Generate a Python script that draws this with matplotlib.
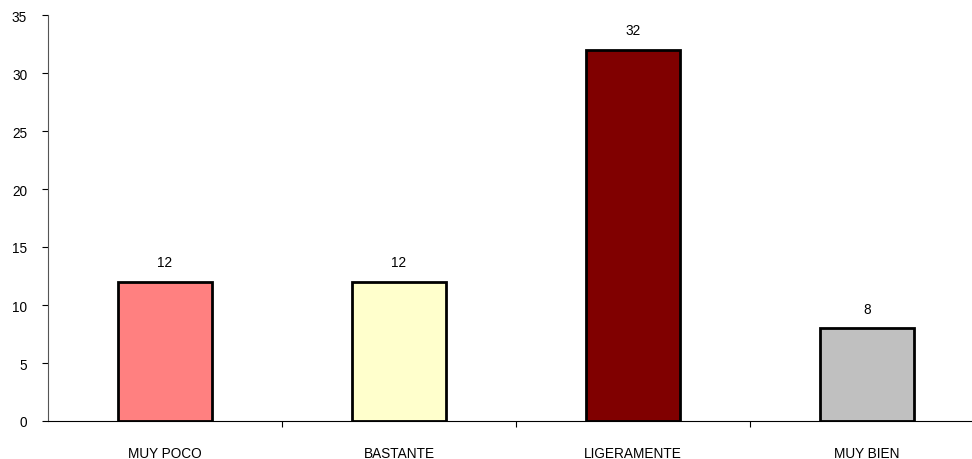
import matplotlib
matplotlib.use("Agg")
import matplotlib.pyplot as plt

categorias = ["MUY POCO", "BASTANTE", "LIGERAMENTE", "MUY BIEN"]
valores = [12, 12, 32, 8]
colores = ["#FF8080", "#FFFFCC", "#800000", "#C0C0C0"]

plt.rcParams["font.family"] = ["Liberation Sans", "DejaVu Sans"]

fig = plt.figure(figsize=(9.72, 4.6), dpi=100)
ax = fig.add_axes([48 / 972, 38 / 460, 936 / 972, 406 / 460])

pos = range(len(categorias))
barras = ax.bar(pos, valores, width=0.4, color=colores, edgecolor="black", linewidth=2)

for b, v in zip(barras, valores):
    ax.annotate(str(v), (b.get_x() + b.get_width() / 2, v), xytext=(0, 9),
                textcoords="offset points", ha="center", va="bottom", fontsize=9.8)

ax.set_xlim(-0.5, len(categorias) - 0.5)
ax.set_ylim(0, 35)
ax.set_yticks(range(0, 36, 5))

# etiquetas centradas, marcas entre categorias
ax.set_xticks([0.5, 1.5, 2.5])
ax.set_xticklabels([])
ax.set_xticks(list(pos), minor=True)
ax.set_xticklabels(categorias, minor=True)
ax.tick_params(axis="x", which="minor", length=0, pad=18, labelsize=9.8)
ax.tick_params(axis="x", which="major", length=4, width=0.8, direction="out")
ax.tick_params(axis="y", length=4, width=0.8, direction="out", pad=11, labelsize=9.8)

for s in ["top", "right"]:
    ax.spines[s].set_visible(False)
ax.spines["left"].set_color("#555555")
ax.spines["bottom"].set_color("black")

fig.savefig("out.png", dpi=100)
